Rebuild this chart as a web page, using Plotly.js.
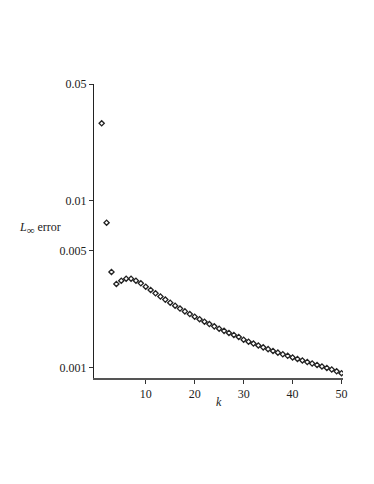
<!DOCTYPE html>
<html>
<head>
<meta charset="utf-8">
<script src="https://cdn.plot.ly/plotly-3.0.1.min.js"></script>
<style>
  html, body { margin: 0; padding: 0; background: white; }
  #chart { width: 374px; height: 484px; }
</style>
</head>
<body>
<div id="chart"></div>
<script>
// k = 1..50
const kValues = Array.from({ length: 50 }, (_, i) => i + 1);
// L-infinity error
const errValues = [
  0.02907, 0.00738, 0.003742, 0.003171, 0.003319, 0.003411, 0.003411, 0.003319, 0.003202, 0.003055,
  0.002919, 0.002789, 0.002668, 0.002556, 0.002449, 0.002350, 0.002258, 0.002173, 0.002094, 0.002020,
  0.001951, 0.001885, 0.001824, 0.001767, 0.001712, 0.001661, 0.001614, 0.001570, 0.001527, 0.001471,
  0.001431, 0.001394, 0.001358, 0.001323, 0.001291, 0.001259, 0.001230, 0.001203, 0.001177, 0.001151,
  0.001127, 0.001104, 0.001081, 0.001059, 0.001038, 0.001017, 0.000996, 0.000975, 0.000951, 0.000926
];
const xTicks = [10, 20, 30, 40, 50];
const yTicks = [0.001, 0.005, 0.01, 0.05];
const yTickText = ["0.001", "0.005", "0.01", "0.05"];

const font = { family: "Liberation Serif, Times New Roman, serif", size: 12, color: "#222" };

const traces = [{
  x: kValues,
  y: errValues,
  type: "scatter",
  mode: "markers",
  marker: { symbol: "diamond-open", size: 4, color: "#222", line: { width: 1.3, color: "#222" } },
  hoverinfo: "x+y"
}];

const layout = {
  width: 374,
  height: 484,
  margin: { l: 94, r: 31, t: 84, b: 106 },
  plot_bgcolor: "white",
  paper_bgcolor: "white",
  showlegend: false,
  font: font,
  xaxis: {
    range: [-0.57, 50.3],
    tickvals: xTicks,
    ticks: "outside",
    ticklen: 4,
    tickcolor: "#333",
    showgrid: false,
    zeroline: false,
    showline: true,
    linecolor: "#555",
    linewidth: 1.5,
    tickfont: font
  },
  yaxis: {
    type: "log",
    range: [Math.log10(0.000867), Math.log10(0.05)],
    tickvals: yTicks,
    ticktext: yTickText,
    ticks: "outside",
    ticklen: 4,
    tickcolor: "#333",
    showgrid: false,
    zeroline: false,
    showline: true,
    linecolor: "#222",
    linewidth: 1,
    tickfont: font
  },
  annotations: [
    {
      text: "<i>L</i><sub><span style=\"font-size:11px\">∞</span></sub> error",
      xref: "paper", yref: "paper",
      x: -0.217, y: 0.51,
      xanchor: "center", yanchor: "middle",
      showarrow: false,
      font: font
    },
    {
      text: "<i>k</i>",
      xref: "paper", yref: "paper",
      x: 0.5, y: -0.08,
      xanchor: "center", yanchor: "middle",
      showarrow: false,
      font: font
    }
  ]
};

Plotly.newPlot("chart", traces, layout, { displayModeBar: false, staticPlot: true });
</script>
</body>
</html>
